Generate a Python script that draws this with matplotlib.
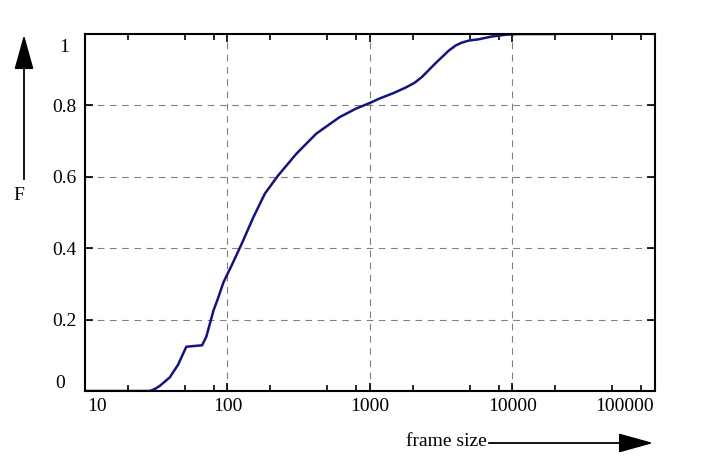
import matplotlib
matplotlib.use("Agg")
import matplotlib.pyplot as plt
from matplotlib.ticker import FixedLocator, NullFormatter
import matplotlib.transforms as mtrans

# CDF of frame sizes
frame_size = [10, 20, 28.5, 31, 33.4, 36, 39.3, 44.9, 51.4, 58, 66.3, 71, 79.8, 85.5,
              93.8, 107, 126, 152, 183, 227, 305, 420, 611, 798, 1000, 1162,
              1450, 1780, 2050, 2320, 2880, 3560, 4000, 4420, 5000, 5760, 7160,
              9000, 11000, 20000]
F = [0.0, 0.0, 0.0, 0.006, 0.014, 0.025, 0.038, 0.073, 0.124, 0.126, 0.128,
     0.152, 0.226, 0.258, 0.305, 0.352, 0.413, 0.487, 0.553, 0.604, 0.665,
     0.721, 0.767, 0.791, 0.807, 0.819, 0.834, 0.85, 0.863, 0.88, 0.918,
     0.953, 0.968, 0.976, 0.982, 0.985, 0.993, 0.998, 1.0, 1.0]

x_major = [10, 100, 1000, 10000, 100000]
x_labels = ["10", "100", "1000", "10000", "100000"]
x_minor = [m * d for d in [10, 100, 1000, 10000] for m in (2, 5, 8)]
y_major = [0, 0.2, 0.4, 0.6, 0.8, 1]
y_labels = ["0", "0.2", "0.4", "0.6", "0.8", "1"]

plt.rcParams['font.family'] = ['Liberation Serif', 'DejaVu Serif']
plt.rcParams['font.size'] = 14

fig = plt.figure(figsize=(7.05, 4.61), dpi=100)
ax = fig.add_axes([85/705, 70/461, 570/705, 357/461])

ax.plot(frame_size, F, color='#14147f', lw=1.8, solid_joinstyle='round')

ax.set_xscale('log')
ax.set_xlim(10, 100000)
ax.set_ylim(0, 1)

ax.xaxis.set_major_locator(FixedLocator(x_major))
ax.set_xticklabels(x_labels)
ax.xaxis.set_minor_locator(FixedLocator(x_minor))
ax.xaxis.set_minor_formatter(NullFormatter())
ax.set_yticks(y_major)
ax.set_yticklabels(y_labels)

ax.tick_params(which='both', direction='in', top=True, right=True, width=1.2, color='black')
ax.tick_params(which='major', length=6)
ax.tick_params(which='minor', length=4)
ax.tick_params(axis='x', pad=5)
ax.tick_params(axis='y', pad=14.5)
for lab in ax.get_yticklabels():
    lab.set_horizontalalignment('center')

# nudge the end labels inward like the original
xl = ax.get_xticklabels()
xl[0].set_transform(xl[0].get_transform() + mtrans.ScaledTranslation(12/100, 0, fig.dpi_scale_trans))
xl[-1].set_transform(xl[-1].get_transform() + mtrans.ScaledTranslation(-30/100, 0, fig.dpi_scale_trans))
yl = ax.get_yticklabels()
yl[0].set_transform(yl[0].get_transform() + mtrans.ScaledTranslation(-5/100, 10/100, fig.dpi_scale_trans))
yl[-1].set_transform(yl[-1].get_transform() + mtrans.ScaledTranslation(-1/100, -12/100, fig.dpi_scale_trans))

for x in [100, 1000, 10000]:
    ax.axvline(x, color='#808080', lw=0.8, ls=(0, (6, 5)), zorder=0)
for y in [0.2, 0.4, 0.6, 0.8]:
    ax.axhline(y, color='#808080', lw=0.8, ls=(0, (6, 5)), zorder=0)

for s in ax.spines.values():
    s.set_linewidth(1.5)

# axis arrows outside the frame
arrow = dict(arrowstyle='-|>,head_length=1.8,head_width=0.5', color='black', lw=1.3)
fig.patches.append(matplotlib.patches.FancyArrowPatch(
    (24/705, 1 - 182/461), (24/705, 1 - 32/461), transform=fig.transFigure,
    mutation_scale=12, **arrow))
fig.text(19/705, 1 - 196/461, "F", ha='center', va='center')
fig.patches.append(matplotlib.patches.FancyArrowPatch(
    (486/705, 1 - 443/461), (656/705, 1 - 443/461), transform=fig.transFigure,
    mutation_scale=12, **arrow))
fig.text(446/705, 1 - 441/461, "frame size", ha='center', va='center')

fig.savefig("out.png", dpi=100)
